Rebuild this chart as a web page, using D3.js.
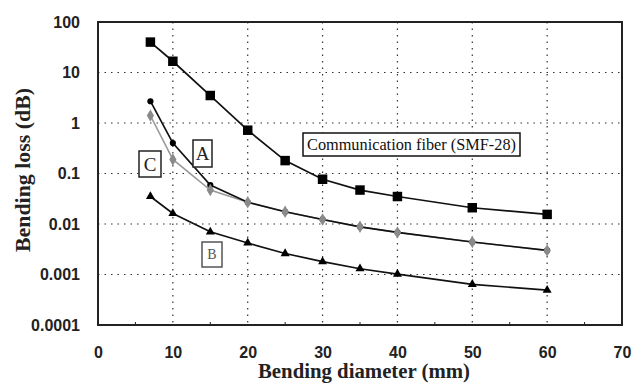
<!DOCTYPE html>
<html>
<head>
<meta charset="utf-8">
<script src="https://cdn.jsdelivr.net/npm/d3@7"></script>
<style>
  body { margin: 0; background: #fff; }
  svg { display: block; }
</style>
</head>
<body>
<div class="chart"></div>
<script>
// data
var diameters = [7, 10, 15, 20, 25, 30, 35, 40, 50, 60];
var smf28 = [40, 16.7, 3.5, 0.72, 0.18, 0.077, 0.047, 0.035, 0.021, 0.0155];
var fiberA = [2.7, 0.40, 0.059, 0.027, 0.0175, 0.0123, 0.0088, 0.0068, 0.0044, 0.0030];
var fiberC = [1.4, 0.19, 0.047, 0.027, 0.0175, 0.0123, 0.0088, 0.0068, 0.0044, 0.0030];
var fiberB = [0.035, 0.0162, 0.0070, 0.0042, 0.0026, 0.0018, 0.0013, 0.00102, 0.00064, 0.00049];
var xTicks = [0, 10, 20, 30, 40, 50, 60, 70];
var yTicks = [0.0001, 0.001, 0.01, 0.1, 1, 10, 100];
var yTickLabels = ["0.0001", "0.001", "0.01", "0.1", "1", "10", "100"];

var W = 632, H = 383;
var margin = {top: 22, right: 10, bottom: 58, left: 98},
    width = W - margin.left - margin.right,
    height = H - margin.top - margin.bottom;

var svg = d3.select(".chart")
  .append("svg")
    .attr("width", W)
    .attr("height", H)
  .append("g")
    .attr("transform", "translate(" + margin.left + "," + margin.top + ")");

var x = d3.scaleLinear().domain([0, 70]).range([0, width]);
var y = d3.scaleLog().domain([0.0001, 100]).range([height, 0]);

// dotted grid
svg.selectAll(".vgrid")
  .data(xTicks.filter(function(d) { return d > 0 && d < 70; }))
  .enter().append("line")
    .attr("x1", function(d) { return x(d); })
    .attr("x2", function(d) { return x(d); })
    .attr("y1", 0).attr("y2", height)
    .attr("stroke", "#333").attr("stroke-width", 1.2)
    .attr("stroke-dasharray", "1.5,5");
svg.selectAll(".hgrid")
  .data(yTicks.filter(function(d) { return d > 0.0001 && d < 100; }))
  .enter().append("line")
    .attr("x1", 0).attr("x2", width)
    .attr("y1", function(d) { return y(d); })
    .attr("y2", function(d) { return y(d); })
    .attr("stroke", "#333").attr("stroke-width", 1.2)
    .attr("stroke-dasharray", "1.5,5");

// minor ticks on the bottom axis
svg.selectAll(".minor")
  .data(d3.range(5, 70, 10))
  .enter().append("line")
    .attr("x1", function(d) { return x(d); })
    .attr("x2", function(d) { return x(d); })
    .attr("y1", height).attr("y2", height - 3)
    .attr("stroke", "#222").attr("stroke-width", 1);

// frame
svg.append("rect")
  .attr("x", 0).attr("y", 0)
  .attr("width", width).attr("height", height)
  .attr("fill", "none").attr("stroke", "#222").attr("stroke-width", 2);

// axes (labels only)
var xAxis = svg.append("g")
  .attr("transform", "translate(0," + height + ")")
  .call(d3.axisBottom(x).tickValues(xTicks).tickSize(0).tickPadding(22).tickFormat(d3.format("d")));
var yAxis = svg.append("g")
  .call(d3.axisLeft(y).tickValues(yTicks).tickSize(0).tickPadding(18)
        .tickFormat(function(d, i) { return yTickLabels[i]; }));
[xAxis, yAxis].forEach(function(a) {
  a.select(".domain").remove();
  a.selectAll("text")
    .style("font-family", "'Liberation Sans', Arial, sans-serif")
    .style("font-size", "16px")
    .style("font-weight", "bold")
    .attr("fill", "#222");
});

var line = d3.line()
  .x(function(d) { return x(d[0]); })
  .y(function(d) { return y(d[1]); });

function pairs(vals) { return diameters.map(function(d, i) { return [d, vals[i]]; }); }

// series lines
svg.append("path").datum(pairs(fiberC)).attr("d", line)
  .attr("fill", "none").attr("stroke", "#999").attr("stroke-width", 1.5);
svg.append("path").datum(pairs(fiberA)).attr("d", line)
  .attr("fill", "none").attr("stroke", "#111").attr("stroke-width", 1.7);
svg.append("path").datum(pairs(smf28)).attr("d", line)
  .attr("fill", "none").attr("stroke", "#111").attr("stroke-width", 1.7);
svg.append("path").datum(pairs(fiberB)).attr("d", line)
  .attr("fill", "none").attr("stroke", "#111").attr("stroke-width", 1.7);

// markers
svg.selectAll(".sq").data(pairs(smf28)).enter().append("path")
  .attr("transform", function(d) { return "translate(" + x(d[0]) + "," + y(d[1]) + ")"; })
  .attr("d", d3.symbol(d3.symbolSquare, 90))
  .attr("fill", "#000");
svg.selectAll(".ca").data(pairs(fiberA)).enter().append("path")
  .attr("transform", function(d) { return "translate(" + x(d[0]) + "," + y(d[1]) + ")"; })
  .attr("d", d3.symbol(d3.symbolCircle, 30))
  .attr("fill", "#000");
svg.selectAll(".dc").data(pairs(fiberC)).enter().append("path")
  .attr("transform", function(d) { return "translate(" + x(d[0]) + "," + y(d[1]) + ")"; })
  .attr("d", d3.symbol(d3.symbolDiamond, 45))
  .attr("fill", "#8a8a8a");
svg.selectAll(".tb").data(pairs(fiberB)).enter().append("path")
  .attr("transform", function(d) { return "translate(" + x(d[0]) + "," + y(d[1]) + ")"; })
  .attr("d", d3.symbol(d3.symbolTriangle, 35))
  .attr("fill", "#000");

// boxed labels
function boxLabel(txt, bx, by, bw, bh, size, color) {
  var g = svg.append("g");
  g.append("rect").attr("x", bx).attr("y", by).attr("width", bw).attr("height", bh)
    .attr("fill", "#fff").attr("stroke", color).attr("stroke-width", 1.5);
  g.append("text").attr("x", bx + bw / 2).attr("y", by + bh / 2)
    .attr("text-anchor", "middle").attr("dominant-baseline", "central")
    .style("font-family", "'Liberation Serif', 'Times New Roman', serif")
    .style("font-size", size + "px")
    .attr("fill", color)
    .text(txt);
}
boxLabel("A", 95, 118, 19, 27, 19, "#222");
boxLabel("C", 41, 129, 22, 26, 19, "#222");
boxLabel("B", 104, 220, 20, 25, 14, "#555");
boxLabel("Communication fiber (SMF-28)", 205, 111, 217, 23, 16.3, "#111");

// axis titles
svg.append("text")
  .attr("x", width / 2 + 4).attr("y", height + 53)
  .attr("text-anchor", "middle")
  .attr("textLength", 212).attr("lengthAdjust", "spacingAndGlyphs")
  .style("font-family", "'Liberation Serif', 'Times New Roman', serif")
  .style("font-size", "20px").style("font-weight", "bold")
  .attr("fill", "#222")
  .text("Bending diameter (mm)");
svg.append("text")
  .attr("transform", "translate(" + (-margin.left + 30) + "," + 148 + ")rotate(-90)")
  .attr("text-anchor", "middle")
  .attr("textLength", 164).attr("lengthAdjust", "spacingAndGlyphs")
  .style("font-family", "'Liberation Serif', 'Times New Roman', serif")
  .style("font-size", "20px").style("font-weight", "bold")
  .attr("fill", "#222")
  .text("Bending loss (dB)");
</script>
</body>
</html>
